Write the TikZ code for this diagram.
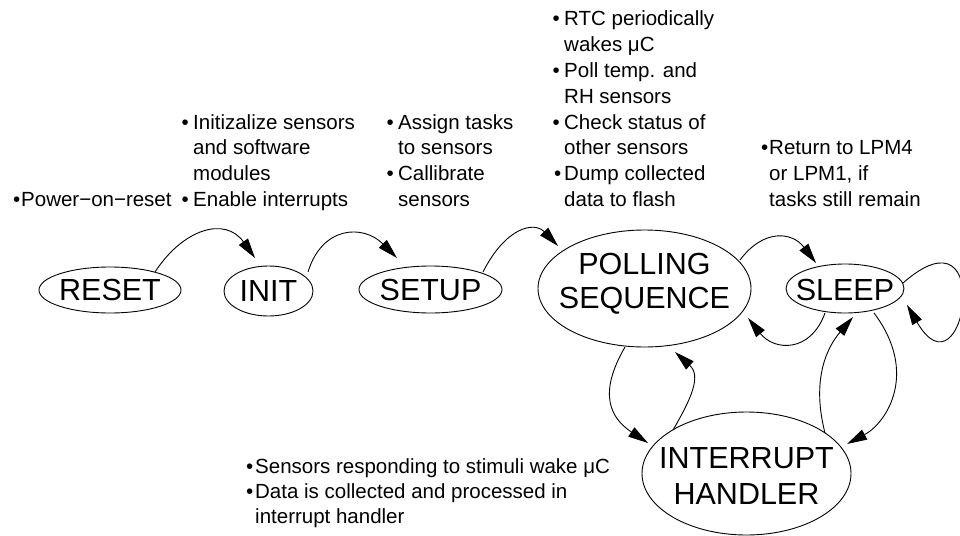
\documentclass[tikz,border=0pt]{standalone}
\usepackage{fontspec}
\setmainfont{Liberation Sans}
\usetikzlibrary{shapes.geometric,arrows.meta,calc}
\newcommand\nbul[1]{\llap{\textbullet\hspace{#1}}}
\begin{document}
\begin{tikzpicture}[x=1pt,y=-1pt,
  st/.style={draw, ellipse, line width=0.9pt, inner sep=0pt},
  big/.style={font=\fontsize{30.5}{34}\selectfont, inner sep=0pt},
  conn/.style={line width=0.9pt, -{Triangle[length=20pt,width=11pt]}},
  note/.style={anchor=base west, inner sep=0pt, font=\fontsize{20.5}{25.8}\selectfont}]
\useasboundingbox (0,0) rectangle (960,535);
\clip (0,0) rectangle (960,535);

% states
\node[st, minimum width=142pt, minimum height=46pt, label={[big]center:RESET}] (reset) at (110,290) {};
\node[st, minimum width=89pt, minimum height=50pt, label={[big]center:INIT}] (init) at (268.5,291) {};
\node[st, minimum width=143pt, minimum height=47pt, label={[big]center:SETUP}] (setup) at (430.5,289.5) {};
\node[st, minimum width=213pt, minimum height=117pt, label={[big, align=center, yshift=5.2pt]center:POLLING\\SEQUENCE}] (poll) at (644.5,288.5) {};
\node[st, minimum width=118pt, minimum height=49pt, label={[big, yshift=-1.5pt]center:SLEEP}] (sleep) at (845,288.5) {};
\node[st, minimum width=209pt, minimum height=123pt, label={[big, align=center, font=\fontsize{30.5}{36}\selectfont, yshift=-2.5pt]center:INTERRUPT\\HANDLER}] (int) at (746.5,473.5) {};

% notes
\node[note] (nreset) at (21,206.5) {\begin{tabular}[t]{@{}l@{}}\nbul{1pt}Power−on−reset\end{tabular}};
\node[note] (ninit) at (193,129.1) {\begin{tabular}[t]{@{}l@{}}\nbul{4.5pt}Initizalize sensors\\and software\\modules\\\nbul{4.5pt}Enable interrupts\end{tabular}};
\node[note] (nsetup) at (398,129.1) {\begin{tabular}[t]{@{}l@{}}\nbul{4.5pt}Assign tasks\\to sensors\\\nbul{4.5pt}Callibrate\\sensors\end{tabular}};
\node[note] (npoll) at (564,25.9) {\begin{tabular}[t]{@{}l@{}}\nbul{4.5pt}RTC periodically\\wakes μC\\\nbul{4.5pt}Poll temp. and\\RH sensors\\\nbul{4.5pt}Check status of\\other sensors\\\nbul{3pt}Dump collected\\data to flash\end{tabular}};
\node[note] (nsleep) at (769,154.9) {\begin{tabular}[t]{@{}l@{}}\nbul{0.8pt}Return to LPM4\\or LPM1, if\\tasks still remain\end{tabular}};
\node[note, font=\fontsize{20.5}{25}\selectfont] (nint) at (255,473.3) {\begin{tabular}[t]{@{}l@{}}\nbul{1.8pt}Sensors responding to stimuli wake μC\\\nbul{1.8pt}Data is collected and processed in\\interrupt handler\end{tabular}};

% transitions
\draw[conn] ($(reset.center)+(45,-18)$) .. controls (183,229) and (225,216) .. ($(init.center)+(-13.5,-33)$);
\draw[conn] ($(init.center)+(39.5,-19)$) .. controls (322,226) and (363,224) .. ($(setup.center)+(-33.5,-31.5)$);
\draw[conn] ($(setup.center)+(52.5,-17.5)$) .. controls (505.5,227.5) and (534,221) .. ($(poll.center)+(-86.5,-42.5)$);
\draw[conn] ($(poll.center)+(95.5,-28.5)$) .. controls (763.5,228.6) and (792,231.6) .. ($(sleep.center)+(-29,-25.5)$);
\draw[conn] ($(sleep.center)+(-20,24.5)$) .. controls (810.5,353) and (774.4,351.2) .. ($(poll.center)+(103.5,29.5)$);
\draw[conn] ($(sleep.center)+(58,-5.5)$) .. controls (996.75,200.5) and (964.5,403.9) .. ($(sleep.center)+(62,16.5)$);
\draw[conn] ($(poll.center)+(-19.5,58.5)$) .. controls (597.5,394.3) and (610.6,418.2) .. ($(int.center)+(-98.5,-30.5)$);
\draw[conn] ($(int.center)+(-73.5,-43.5)$) .. controls (691,399) and (701.6,376.1) .. ($(poll.center)+(30.5,63.5)$);
\draw[conn] ($(int.center)+(78.5,-40.5)$) .. controls (812.5,384.5) and (823.75,351.2) .. ($(sleep.center)+(8,28.5)$);
\draw[conn] ($(sleep.center)+(29,24.5)$) .. controls (919,373) and (886.6,422.9) .. ($(int.center)+(100.5,-29.5)$);
\end{tikzpicture}
\end{document}
